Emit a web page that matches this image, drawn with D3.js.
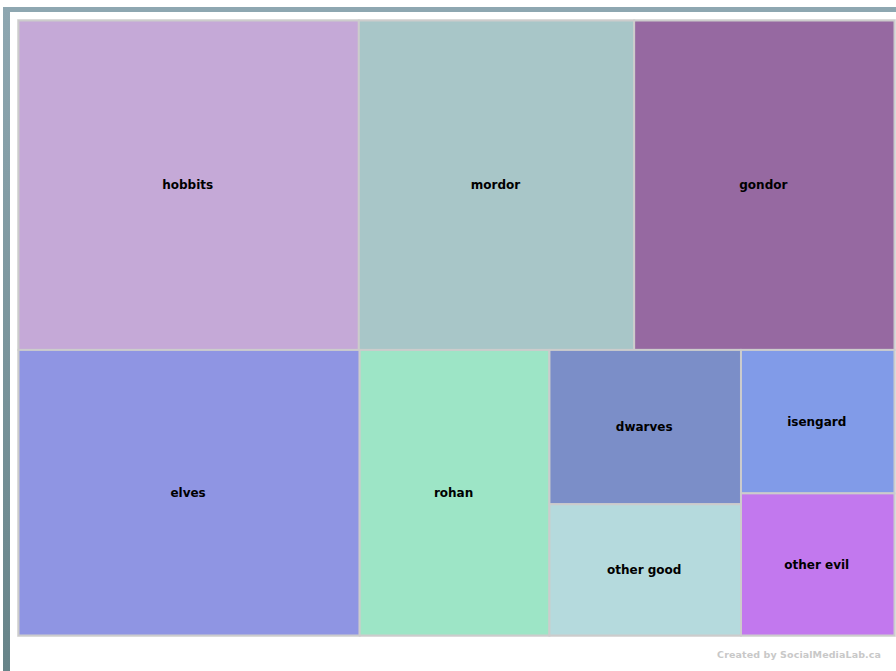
<!DOCTYPE html>
<html>
<head>
<meta charset="utf-8">
<script src="https://cdn.jsdelivr.net/npm/d3@7"></script>
<style>
  body { margin: 0; background: #fff; }
  svg { display: block; }
</style>
</head>
<body>
<script>
// rows of the treemap; groups inside a row are stacked vertically
var rowTop = ["hobbits", "mordor", "gondor"];
var rowTopValues = [111.5, 90.2, 85.3];

var rowBottom = ["elves", "rohan"];
var rowBottomValues = [96.9, 53.9];

var stackA = ["dwarves", "other good"];
var stackAValues = [29.4, 25.0];

var stackB = ["isengard", "other evil"];
var stackBValues = [21.9, 21.7];

var colors = {
    "hobbits": "#c5a9d7",
    "mordor": "#a8c6c8",
    "gondor": "#9669a1",
    "elves": "#8f95e3",
    "rohan": "#9de5c6",
    "dwarves": "#7b8ec8",
    "other good": "#b5dadd",
    "isengard": "#819be8",
    "other evil": "#c278ee"
};

function leaves(names, values) {
    return names.map(function (n, i) { return { name: n, value: values[i] }; });
}

var tree = {
    name: "root",
    children: [
        { name: "top", children: leaves(rowTop, rowTopValues) },
        { name: "bottom", children: leaves(rowBottom, rowBottomValues).concat([
            { name: "a", children: leaves(stackA, stackAValues) },
            { name: "b", children: leaves(stackB, stackBValues) }
        ]) }
    ]
};

var width = 896, height = 671;
var mapLeft = 18.5, mapTop = 20.5, mapW = 876, mapH = 615;

var svg = d3.select("body").append("svg")
    .attr("width", width)
    .attr("height", height);

var defs = svg.append("defs");
var grad = defs.append("linearGradient")
    .attr("id", "sideGrad")
    .attr("x1", 0).attr("y1", 0).attr("x2", 0).attr("y2", 1);
grad.append("stop").attr("offset", "0%").attr("stop-color", "#8ea7b1");
grad.append("stop").attr("offset", "100%").attr("stop-color", "#678489");

// frame
svg.append("rect")
    .attr("x", 3).attr("y", 7)
    .attr("width", 893).attr("height", 5)
    .attr("fill", "#8ea7b1");
svg.append("rect")
    .attr("x", 3).attr("y", 7)
    .attr("width", 7).attr("height", height - 7)
    .attr("fill", "url(#sideGrad)");

// soft shadow behind the map
svg.append("rect")
    .attr("x", mapLeft - 1.5).attr("y", mapTop - 1.5)
    .attr("width", mapW + 3).attr("height", mapH + 3)
    .attr("fill", "#e8e8e8");

var root = d3.hierarchy(tree).sum(function (d) { return d.value || 0; });

// depth 0 stacks rows, depth 1 lays rows out side by side, depth 2 stacks again
d3.treemap()
    .tile(function (node, x0, y0, x1, y1) {
        if (node.depth % 2 === 0) d3.treemapSlice(node, x0, y0, x1, y1);
        else d3.treemapDice(node, x0, y0, x1, y1);
    })
    .size([mapW, mapH])(root);

var map = svg.append("g")
    .attr("transform", "translate(" + mapLeft + "," + mapTop + ")");

var cell = map.selectAll("g.cell")
    .data(root.leaves())
    .enter().append("g")
    .attr("class", "cell");

cell.append("rect")
    .attr("x", function (d) { return d.x0; })
    .attr("y", function (d) { return d.y0; })
    .attr("width", function (d) { return d.x1 - d.x0; })
    .attr("height", function (d) { return d.y1 - d.y0; })
    .attr("fill", function (d) { return colors[d.data.name]; })
    .attr("stroke", "#cccccc")
    .attr("stroke-width", 2);

cell.append("text")
    .attr("x", function (d) { return (d.x0 + d.x1) / 2 - 1; })
    .attr("y", function (d) { return (d.y0 + d.y1) / 2; })
    .attr("dy", "0.35em")
    .attr("text-anchor", "middle")
    .style("font-family", "'DejaVu Sans', Verdana, sans-serif")
    .style("font-weight", "bold")
    .style("font-size", "12px")
    .attr("fill", "#000")
    .text(function (d) { return d.data.name; });

svg.append("text")
    .attr("x", 881)
    .attr("y", 658)
    .attr("text-anchor", "end")
    .style("font-family", "'DejaVu Sans', Verdana, sans-serif")
    .style("font-weight", "bold")
    .style("font-size", "9.5px")
    .style("letter-spacing", "0.1px")
    .attr("fill", "#c8c8c8")
    .text("Created by SocialMediaLab.ca");
</script>
</body>
</html>
